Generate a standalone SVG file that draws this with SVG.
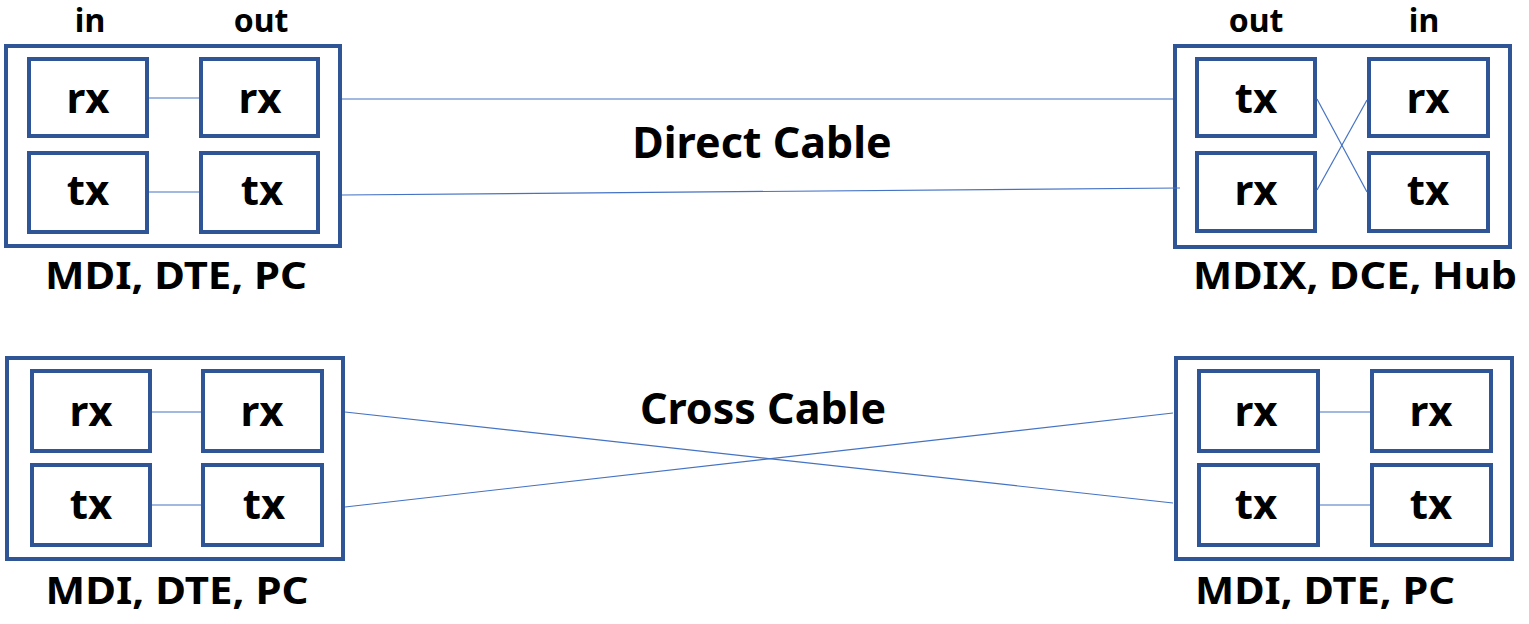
<svg xmlns="http://www.w3.org/2000/svg" width="1529" height="624" viewBox="0 0 1529 624">
<style>
.box{fill:#fff;stroke:#2F5597;stroke-width:4}
.ln{stroke:#4472C4;stroke-width:1.2;fill:none}
text{font-family:"Noto Sans","Liberation Sans",sans-serif;font-weight:bold;fill:#000;text-anchor:middle}
.lb{font-size:42px}
.nm{font-size:37px}
.cb{font-size:43px}
.hd{font-size:32px}
</style>
<rect width="1529" height="624" fill="#fff"/>
<g id="dev1">
<rect class="box" x="6" y="46" width="334" height="200"/>
<text class="hd" x="90" y="32">in</text>
<text class="hd" x="261" y="32">out</text>
<text class="nm" x="176" y="289" textLength="262" lengthAdjust="spacingAndGlyphs">MDI, DTE, PC</text>
</g>
<g id="dev1-rx-in"><rect class="box" x="29" y="59" width="118" height="77"/><text class="lb" x="88" y="113">rx</text></g>
<g id="dev1-tx-in"><rect class="box" x="29" y="153" width="118" height="79"/><text class="lb" x="88" y="205">tx</text></g>
<g id="dev1-rx-out"><rect class="box" x="201" y="59" width="117" height="77"/><text class="lb" x="260" y="113">rx</text></g>
<g id="dev1-tx-out"><rect class="box" x="201" y="153" width="117" height="79"/><text class="lb" x="262" y="205">tx</text></g>

<g id="dev2">
<rect class="box" x="1175" y="46" width="335" height="201"/>
<text class="hd" x="1256" y="32">out</text>
<text class="hd" x="1424" y="32">in</text>
<text class="nm" x="1355" y="289" textLength="324" lengthAdjust="spacingAndGlyphs">MDIX, DCE, Hub</text>
</g>
<g id="dev2-tx-out"><rect class="box" x="1197" y="59" width="118" height="77"/><text class="lb" x="1256" y="113">tx</text></g>
<g id="dev2-rx-out"><rect class="box" x="1197" y="153" width="118" height="78"/><text class="lb" x="1256" y="205">rx</text></g>
<g id="dev2-rx-in"><rect class="box" x="1369" y="59" width="119" height="77"/><text class="lb" x="1428" y="113">rx</text></g>
<g id="dev2-tx-in"><rect class="box" x="1369" y="153" width="119" height="78"/><text class="lb" x="1428" y="205">tx</text></g>

<text class="cb" x="762" y="158">Direct Cable</text>
<text class="cb" x="763" y="424">Cross Cable</text>

<g id="dev3">
<rect class="box" x="7" y="358" width="336" height="201"/>
<text class="nm" x="177" y="604" textLength="263" lengthAdjust="spacingAndGlyphs">MDI, DTE, PC</text>
</g>
<g id="dev3-rx-in"><rect class="box" x="32" y="371" width="118" height="80"/><text class="lb" x="91" y="426">rx</text></g>
<g id="dev3-tx-in"><rect class="box" x="32" y="465" width="118" height="80"/><text class="lb" x="91" y="519">tx</text></g>
<g id="dev3-rx-out"><rect class="box" x="203" y="371" width="119" height="80"/><text class="lb" x="262" y="426">rx</text></g>
<g id="dev3-tx-out"><rect class="box" x="203" y="465" width="119" height="80"/><text class="lb" x="264" y="519">tx</text></g>

<g id="dev4">
<rect class="box" x="1176" y="358" width="336" height="201"/>
<text class="nm" x="1325" y="604" textLength="260" lengthAdjust="spacingAndGlyphs">MDI, DTE, PC</text>
</g>
<g id="dev4-rx-in"><rect class="box" x="1199" y="371" width="119" height="80"/><text class="lb" x="1256" y="426">rx</text></g>
<g id="dev4-tx-in"><rect class="box" x="1199" y="465" width="119" height="80"/><text class="lb" x="1256" y="519">tx</text></g>
<g id="dev4-rx-out"><rect class="box" x="1372" y="371" width="119" height="80"/><text class="lb" x="1431" y="426">rx</text></g>
<g id="dev4-tx-out"><rect class="box" x="1372" y="465" width="119" height="80"/><text class="lb" x="1431" y="519">tx</text></g>

<g id="conn">
<line class="ln" x1="149" y1="98" x2="199" y2="98"/>
<line class="ln" x1="149" y1="192" x2="199" y2="192"/>
<line class="ln" x1="342" y1="99" x2="1173" y2="99"/>
<line class="ln" x1="342" y1="195" x2="1180" y2="188"/>
<line class="ln" x1="1317" y1="99" x2="1367" y2="192"/>
<line class="ln" x1="1317" y1="190" x2="1367" y2="100"/>
<line class="ln" x1="152" y1="412" x2="201" y2="412"/>
<line class="ln" x1="152" y1="505" x2="201" y2="505"/>
<line class="ln" x1="1320" y1="412" x2="1370" y2="412"/>
<line class="ln" x1="1320" y1="505" x2="1370" y2="505"/>
<line class="ln" x1="345" y1="412" x2="1173" y2="503"/>
<line class="ln" x1="345" y1="507" x2="1173" y2="413"/>
</g>
</svg>
